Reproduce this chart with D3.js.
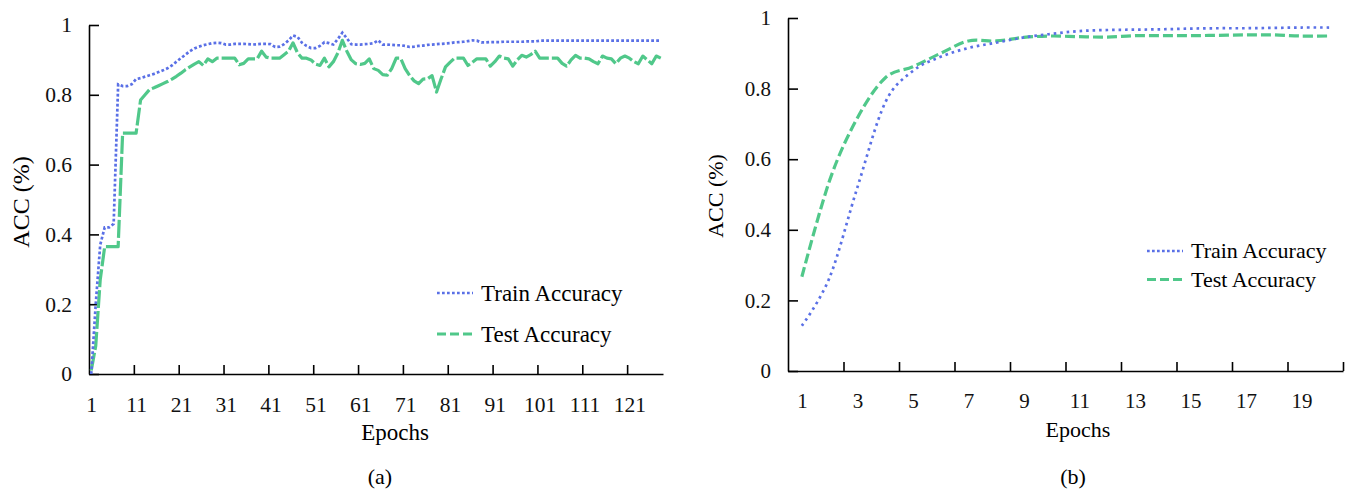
<!DOCTYPE html>
<html>
<head>
<meta charset="utf-8">
<script src="https://cdn.jsdelivr.net/npm/d3@7"></script>
<style>
  body { margin: 0; background: #fff; }
</style>
</head>
<body>
<div id="plot"></div>
<script>
// panel (a): 128 epochs
const trainA = [
  0, 0.2, 0.37, 0.42, 0.42, 0.43, 0.83, 0.825, 0.825, 0.83,
  0.845, 0.848, 0.852, 0.856, 0.86, 0.865, 0.87, 0.876, 0.884, 0.895,
  0.905, 0.915, 0.925, 0.933, 0.938, 0.942, 0.945, 0.948, 0.949, 0.948,
  0.944, 0.944, 0.946, 0.946, 0.946, 0.945, 0.944, 0.945, 0.946, 0.946,
  0.945, 0.937, 0.938, 0.945, 0.956, 0.97, 0.966, 0.949, 0.94, 0.934,
  0.934, 0.94, 0.951, 0.948, 0.944, 0.96, 0.978, 0.962, 0.945, 0.944,
  0.944, 0.945, 0.946, 0.948, 0.956, 0.944, 0.944, 0.943, 0.942, 0.942,
  0.94, 0.937, 0.938, 0.94, 0.941, 0.943, 0.944, 0.945, 0.946, 0.947,
  0.948, 0.95, 0.951, 0.952, 0.954, 0.956, 0.955, 0.95, 0.95, 0.951,
  0.951, 0.951, 0.952, 0.952, 0.952, 0.952, 0.952, 0.953, 0.953, 0.953,
  0.955, 0.955, 0.955, 0.955, 0.955, 0.955, 0.955, 0.955, 0.955, 0.955,
  0.955, 0.955, 0.955, 0.955, 0.955, 0.955, 0.955, 0.955, 0.955, 0.955,
  0.955, 0.955, 0.955, 0.955, 0.955, 0.955, 0.955, 0.955
];
const testA = [
  0.01, 0.08, 0.27, 0.365, 0.365, 0.365, 0.365, 0.69, 0.69, 0.69,
  0.69, 0.785, 0.8, 0.815, 0.82, 0.826, 0.832, 0.838, 0.845, 0.853,
  0.862, 0.872, 0.88, 0.888, 0.895, 0.884, 0.903, 0.895, 0.905, 0.905,
  0.905, 0.905, 0.905, 0.886, 0.89, 0.903, 0.903, 0.903, 0.925, 0.908,
  0.905, 0.905, 0.905, 0.915, 0.925, 0.949, 0.92, 0.905, 0.905, 0.9,
  0.888, 0.884, 0.905, 0.88, 0.895, 0.92, 0.956, 0.925, 0.9, 0.889,
  0.887, 0.89, 0.903, 0.875, 0.87, 0.858, 0.856, 0.875, 0.905, 0.905,
  0.875, 0.855, 0.84, 0.832, 0.845, 0.846, 0.855, 0.808, 0.845, 0.88,
  0.893, 0.905, 0.905, 0.905, 0.884, 0.893, 0.903, 0.903, 0.903, 0.882,
  0.895, 0.911, 0.905, 0.903, 0.882, 0.9, 0.913, 0.908, 0.915, 0.925,
  0.905, 0.905, 0.905, 0.905, 0.905, 0.89, 0.882, 0.9, 0.913, 0.905,
  0.905, 0.903, 0.895, 0.889, 0.911, 0.905, 0.903, 0.889, 0.905, 0.911,
  0.905, 0.895, 0.889, 0.911, 0.9, 0.889, 0.911, 0.905
];
const xLabelsA = [1, 11, 21, 31, 41, 51, 61, 71, 81, 91, 101, 111, 121];

// panel (b): 20 epochs
const trainB = [0.128, 0.265, 0.52, 0.76, 0.85, 0.89, 0.915, 0.93, 0.945, 0.955,
                0.963, 0.966, 0.967, 0.968, 0.97, 0.971, 0.971, 0.972, 0.973, 0.973];
const testB = [0.267, 0.54, 0.717, 0.83, 0.862, 0.9, 0.935, 0.935, 0.945, 0.949,
               0.947, 0.946, 0.95, 0.95, 0.95, 0.951, 0.952, 0.952, 0.949, 0.949];
const xLabelsB = [1, 3, 5, 7, 9, 11, 13, 15, 17, 19];

const yTicks = [0, 0.2, 0.4, 0.6, 0.8, 1];
const seriesNames = ["Train Accuracy", "Test Accuracy"];

const blue = "#5a70e6", green = "#50c88a";
const serif = "'Liberation Serif', 'DejaVu Serif', 'Times New Roman', serif";

const svg = d3.select("#plot").append("svg")
    .attr("width", 1352)
    .attr("height", 494);

function drawPanel(p) {
    const n = p.train.length;
    // category axis: epoch i sits in the middle of slot [i-1, i]
    const x = d3.scaleLinear().domain([0, n]).range([p.left, p.right]);
    const y = d3.scaleLinear().domain([0, 1]).range([p.bottom, p.top]);

    const g = svg.append("g");

    // y axis, ticks pointing inward
    g.append("g")
        .attr("transform", `translate(${p.left},0)`)
        .call(d3.axisLeft(y).tickValues(yTicks).tickSizeInner(-10).tickSizeOuter(0)
            .tickPadding(17).tickFormat(d => String(+d.toFixed(1))))
        .call(a => a.select(".domain").attr("stroke-width", 1.6))
        .call(a => a.selectAll(".tick line").attr("stroke-width", 1.6))
        .call(a => a.selectAll("text").style("font-size", p.tickFont).style("font-family", serif).attr("fill", "#111"));

    // x axis, tick marks on slot boundaries
    g.append("g")
        .attr("transform", `translate(0,${p.bottom})`)
        .call(d3.axisBottom(x).tickValues(p.boundaries).tickSizeInner(-9).tickSizeOuter(0)
            .tickFormat(""))
        .call(a => a.select(".domain").attr("stroke-width", 1.6))
        .call(a => a.selectAll(".tick line").attr("stroke-width", 1.6));

    // category labels at slot centres
    g.append("g")
        .attr("transform", `translate(0,${p.bottom})`)
        .call(d3.axisBottom(x).tickValues(p.labels.map(d => d - 0.5)).tickSize(0)
            .tickPadding(p.labelPad).tickFormat(d => d + 0.5))
        .call(a => a.select(".domain").remove())
        .call(a => a.selectAll("text").style("font-size", p.tickFont).style("font-family", serif).attr("fill", "#111"));

    const line = d3.line()
        .x((d, i) => x(i + 0.5))
        .y(d => y(d))
        .curve(p.curve);

    g.append("path")
        .datum(p.test)
        .attr("fill", "none")
        .attr("stroke", green)
        .attr("stroke-width", 3.2)
        .attr("stroke-dasharray", p.testDash)
        .attr("stroke-linejoin", "round")
        .attr("d", line);

    g.append("path")
        .datum(p.train)
        .attr("fill", "none")
        .attr("stroke", blue)
        .attr("stroke-width", 2.7)
        .attr("stroke-dasharray", p.trainDash)
        .attr("d", line);

    // legend
    const lg = g.append("g");
    [[blue, "2.7,2.3", 2.4], [green, "9,4", 3]].forEach((s, i) => {
        const ly = p.legY + i * p.legGap;
        lg.append("line")
            .attr("x1", p.legX).attr("x2", p.legX + 36)
            .attr("y1", ly).attr("y2", ly)
            .attr("stroke", s[0])
            .attr("stroke-width", s[2])
            .attr("stroke-dasharray", s[1]);
        lg.append("text")
            .attr("x", p.legX + 44)
            .attr("y", ly)
            .attr("dy", "0.34em")
            .style("font-family", serif)
            .style("font-size", p.legFont)
            .text(seriesNames[i]);
    });

    g.append("text")
        .attr("text-anchor", "middle")
        .attr("x", p.xTitleX)
        .attr("y", p.bottom + 66)
        .style("font-family", serif)
        .style("font-size", p.titleFont)
        .text("Epochs");

    g.append("text")
        .attr("text-anchor", "middle")
        .attr("transform", `translate(${p.yTitleX},${p.yTitleY}) rotate(-90)`)
        .style("font-family", serif)
        .style("font-size", p.yTitleFont)
        .text("ACC (%)");

    g.append("text")
        .attr("text-anchor", "middle")
        .attr("x", p.capX)
        .attr("y", 484)
        .style("font-family", serif)
        .style("font-size", "22px")
        .text(p.caption);
}

drawPanel({
    train: trainA, test: testA, labels: xLabelsA,
    boundaries: [10, 20, 30, 40, 50, 60, 70, 80, 90, 100, 110, 120],
    left: 89, right: 663, top: 25, bottom: 374, labelPad: 23,
    curve: d3.curveLinear, trainDash: "2.8,2.2", testDash: "18,3",
    legX: 437, legY: 293, legGap: 41,
    tickFont: "21.5px", legFont: "23px", titleFont: "23px", yTitleFont: "24px",
    xTitleX: 395, yTitleX: 29, yTitleY: 202, capX: 380, caption: "(a)"
});

drawPanel({
    train: trainB, test: testB, labels: xLabelsB,
    boundaries: [2, 4, 6, 8, 10, 12, 14, 16, 18, 20],
    left: 788, right: 1343, top: 18, bottom: 371, labelPad: 22,
    curve: d3.curveCardinal.tension(0), trainDash: "2.6,3.9", testDash: "10,4",
    legX: 1147, legY: 251, legGap: 28.5,
    tickFont: "21px", legFont: "22px", titleFont: "22px", yTitleFont: "22px",
    xTitleX: 1078, yTitleX: 723, yTitleY: 196, capX: 1073, caption: "(b)"
});
</script>
</body>
</html>
